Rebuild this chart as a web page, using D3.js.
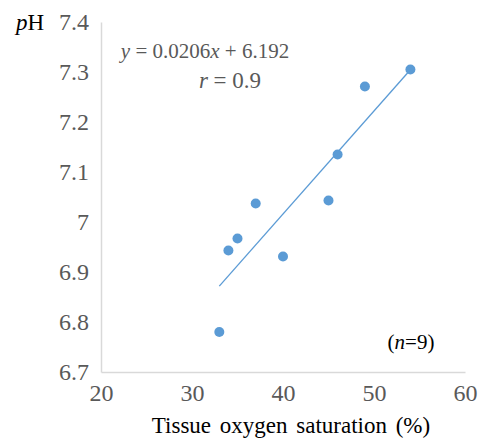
<!DOCTYPE html>
<html>
<head>
<meta charset="utf-8">
<script src="https://cdn.jsdelivr.net/npm/d3@7"></script>
</head>
<body style="margin:0">
<svg id="plot" width="480" height="442" font-family="Liberation Serif"></svg>
<script>
// tissue oxygen saturation (%) vs pH
var satValues = [33, 34, 35, 37, 40, 45, 46, 49, 54];
var phValues = [6.78, 6.943, 6.967, 7.037, 6.931, 7.043, 7.135, 7.271, 7.305];
var xTicks = [20, 30, 40, 50, 60];
var yTicks = [6.7, 6.8, 6.9, 7, 7.1, 7.2, 7.3, 7.4];
var fitSlope = 0.0206, fitIntercept = 6.192, fitRange = [33, 54];

var fontFam = 'Liberation Serif';

var svg = d3.select('#plot');
var margin = {left: 101, right: 15, top: 22, bottom: 70};
var w = 480 - margin.left - margin.right,
    h = 442 - margin.top - margin.bottom;

var x = d3.scaleLinear().domain([20, 60]).range([0, w]);
var y = d3.scaleLinear().domain([6.7, 7.4]).range([h, 0]);

var g = svg.append('g').attr('transform', 'translate(' + margin.left + ',' + margin.top + ')');

var xAxis = g.append('g').attr('transform', 'translate(0,' + h + ')')
    .call(d3.axisBottom(x).tickValues(xTicks).tickSize(0).tickPadding(12).tickFormat(d3.format('d')));
var yAxis = g.append('g')
    .call(d3.axisLeft(y).tickValues(yTicks).tickSize(0).tickPadding(12).tickFormat(function(d) {
        return d === 7 ? '7' : d3.format('.1f')(d);
    }));

[xAxis, yAxis].forEach(function(a) {
    a.attr('font-family', fontFam).attr('font-size', 24);
    a.select('.domain').attr('stroke', '#d9d9d9').attr('stroke-width', 1.5);
    a.selectAll('text').attr('fill', '#595959').attr('font-family', fontFam);
});
xAxis.selectAll('text').attr('dy', '0.71em');
yAxis.selectAll('text').attr('dy', '0.32em');

// trendline
g.append('line')
    .attr('x1', x(fitRange[0])).attr('y1', y(fitSlope * fitRange[0] + fitIntercept))
    .attr('x2', x(fitRange[1])).attr('y2', y(fitSlope * fitRange[1] + fitIntercept))
    .attr('stroke', '#5b9bd5').attr('stroke-width', 1.3);

g.selectAll('.dot').data(satValues).enter().append('circle')
    .attr('class', 'dot')
    .attr('cx', function(d) { return x(d); })
    .attr('cy', function(d, i) { return y(phValues[i]); })
    .attr('r', 5)
    .attr('fill', '#5b9bd5');

function label(px, py, size, color, anchor) {
    return svg.append('text').attr('x', px).attr('y', py).attr('text-anchor', anchor)
        .attr('fill', color).attr('font-family', fontFam).attr('font-size', size);
}

// equation
var eq = label(205, 58, 21, '#595959', 'middle');
eq.append('tspan').attr('font-style', 'italic').text('y');
eq.append('tspan').text(' = 0.0206');
eq.append('tspan').attr('font-style', 'italic').text('x');
eq.append('tspan').text(' + 6.192');

var rt = label(230, 88, 23, '#595959', 'middle');
rt.append('tspan').attr('font-style', 'italic').text('r');
rt.append('tspan').text(' = 0.9');

var nt = label(411, 349, 21, '#000', 'middle');
nt.append('tspan').text('(');
nt.append('tspan').attr('font-style', 'italic').text('n');
nt.append('tspan').text('=9)');

var ph = label(16, 30, 23, '#000', 'start');
ph.append('tspan').attr('font-style', 'italic').text('p');
ph.append('tspan').text('H');

label(291, 433, 23, '#000', 'middle').attr('word-spacing', 3)
    .text('Tissue oxygen saturation (%)');
</script>
</body>
</html>
